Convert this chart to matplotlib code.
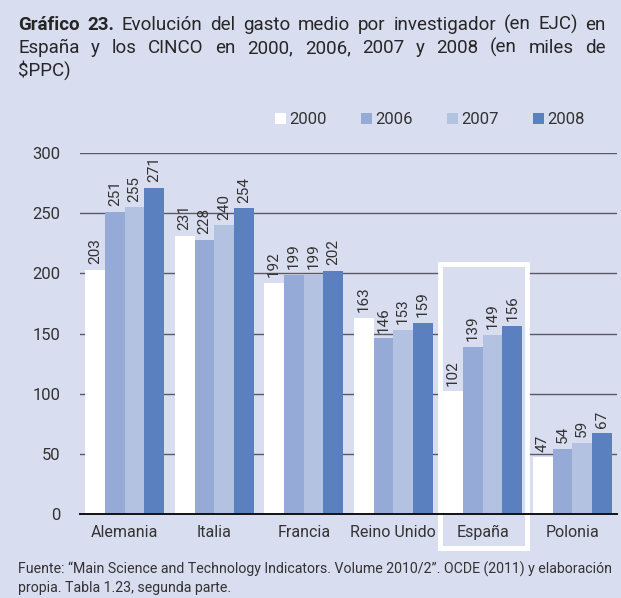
import matplotlib
matplotlib.use("Agg")
import matplotlib.pyplot as plt
from matplotlib import font_manager
from matplotlib.patches import Rectangle, Patch

# ------------------------------------------------------------
# Data
# ------------------------------------------------------------
countries = ["Alemania", "Italia", "Francia", "Reino Unido", "España", "Polonia"]
years = ["2000", "2006", "2007", "2008"]
v2000 = [203, 231, 192, 163, 102, 47]
v2006 = [251, 228, 199, 146, 139, 54]
v2007 = [255, 240, 199, 153, 149, 59]
v2008 = [271, 254, 202, 159, 156, 67]
series = [v2000, v2006, v2007, v2008]
yticks = [0, 50, 100, 150, 200, 250, 300]

# ------------------------------------------------------------
# Style
# ------------------------------------------------------------
bg = "#d9ddf0"
colors = ["#ffffff", "#95aad6", "#b4c2e2", "#5b80c0"]
txt = "#333333"
W, H = 621, 598

names = {f.name for f in font_manager.fontManager.ttflist}
family = "Liberation Sans Narrow" if "Liberation Sans Narrow" in names else "Roboto"
plt.rcParams["font.family"] = [family, "DejaVu Sans"]

fig = plt.figure(figsize=(W / 100, H / 100), dpi=100, facecolor=bg)
ax = fig.add_axes([80 / W, 84 / H, 537 / W, 361 / H], facecolor=bg)
renderer = fig.canvas.get_renderer()

width = 0.22
offsets = [-0.33, -0.11, 0.11, 0.33]
x = list(range(len(countries)))

# grid lines behind everything
for t in yticks[1:]:
    ax.axhline(t, color="#5a5a66", linewidth=1, zorder=0.5)

for vals, off, col, yr in zip(series, offsets, colors, years):
    bars = ax.bar([i + off for i in x], vals, width=width, color=col,
                  zorder=2, label=yr)
    for b, v in zip(bars, vals):
        ax.annotate(str(v), (b.get_x() + b.get_width() / 2, v),
                    xytext=(0, 4), textcoords="offset points",
                    rotation=90, ha="center", va="bottom",
                    fontsize=11, color=txt, zorder=3)

ax.set_xlim(-0.5, len(countries) - 0.5)
ax.set_ylim(0, 300)
ax.set_yticks(yticks)
ax.set_xticks(x)
ax.set_xticklabels(countries)
ax.tick_params(axis="x", length=0, pad=8, labelsize=11.5, labelcolor=txt)
ax.tick_params(axis="y", length=0, pad=14, labelsize=12, labelcolor=txt)
for s in ["top", "right", "left"]:
    ax.spines[s].set_visible(False)
ax.spines["bottom"].set_color("#111111")
ax.spines["bottom"].set_linewidth(1.4)

# highlight box around España
box = Rectangle((3.522, -28.3), 0.972, 236.1, transform=ax.transData,
                facecolor=bg, edgecolor="white", linewidth=3.5,
                zorder=1, clip_on=False)
ax.add_patch(box)

# legend
handles = [Patch(facecolor=c, edgecolor="none") for c in colors]
fig.legend(handles, years, loc="center left",
           bbox_to_anchor=(267 / W, 1 - 120 / H),
           ncol=4, frameon=False, fontsize=12, handlelength=0.65,
           handleheight=0.65, handletextpad=0.2, columnspacing=2.05,
           labelcolor=txt, borderpad=0)


def text_width(s, size, weight="normal"):
    t = fig.text(0, 0, s, fontsize=size, fontweight=weight)
    w = t.get_window_extent(renderer).width
    t.remove()
    return w


def justified(words, y, x0, x1, size, bold_first=0):
    # place words so the line fills x0..x1 (pixels)
    weights = ["bold" if i < bold_first else "normal" for i in range(len(words))]
    widths = [text_width(w, size, wt) for w, wt in zip(words, weights)]
    gap = (x1 - x0 - sum(widths)) / (len(words) - 1)
    pos = x0
    for w, wt, wd in zip(words, weights, widths):
        fig.text(pos / W, 1 - y / H, w, fontsize=size, fontweight=wt,
                 color="#262626", va="baseline")
        pos += wd + gap


# title
tsize = 13.5
line1 = ["Gráfico", "23.", "Evolución", "del", "gasto", "medio", "por",
         "investigador", "(en", "EJC)", "en"]
line2 = ["España", "y", "los", "CINCO", "en", "2000,", "2006,", "2007", "y",
         "2008", "(en", "miles", "de"]
justified(line1, 30, 18, 606, tsize, bold_first=2)
justified(line2, 53, 18, 606, tsize)
fig.text(18 / W, 1 - 76 / H, "$PPC)", fontsize=tsize, color="#262626",
         va="baseline")

# source
src1 = ("Fuente: \u201cMain Science and Technology Indicators. Volume 2010/2\u201d. "
        "OCDE (2011) y elaboración")
ssize = 10.5 * 598 / text_width(src1, 10.5)
fig.text(18 / W, 1 - 574 / H, src1, fontsize=ssize, color=txt, va="baseline")
fig.text(18 / W, 1 - 592 / H, "propia. Tabla 1.23, segunda parte.",
         fontsize=ssize, color=txt, va="baseline")

fig.savefig("out.png", dpi=100, facecolor=bg)
